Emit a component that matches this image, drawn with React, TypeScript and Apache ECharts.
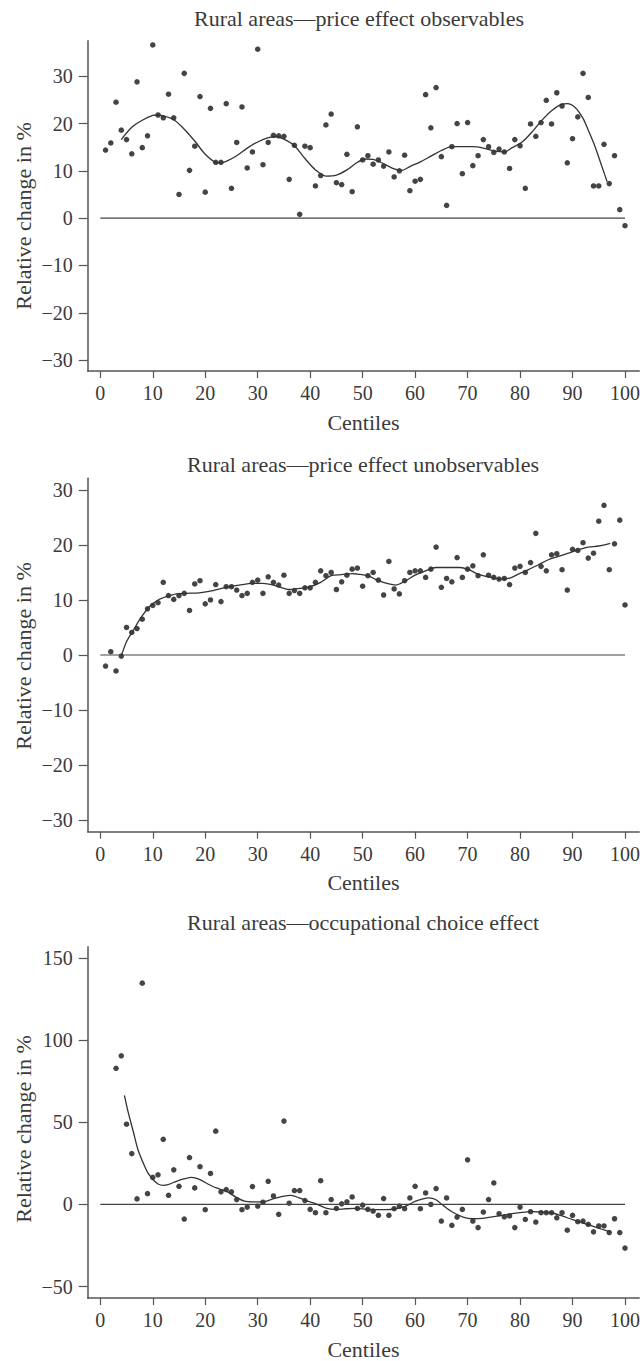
import { useEffect, useRef } from "react";
import * as echarts from "echarts";

const centiles = [
  1, 2, 3, 4, 5, 6, 7, 8, 9, 10, 11, 12, 13, 14, 15, 16, 17, 18, 19, 20,
  21, 22, 23, 24, 25, 26, 27, 28, 29, 30, 31, 32, 33, 34, 35, 36, 37, 38, 39, 40,
  41, 42, 43, 44, 45, 46, 47, 48, 49, 50, 51, 52, 53, 54, 55, 56, 57, 58, 59, 60,
  61, 62, 63, 64, 65, 66, 67, 68, 69, 70, 71, 72, 73, 74, 75, 76, 77, 78, 79, 80,
  81, 82, 83, 84, 85, 86, 87, 88, 89, 90, 91, 92, 93, 94, 95, 96, 97, 98, 99, 100,
];

const xTicks = [0, 10, 20, 30, 40, 50, 60, 70, 80, 90, 100];
const yTicksPrice = [-30, -20, -10, 0, 10, 20, 30];
const yTicksOcc = [-50, 0, 50, 100, 150];

const titles = [
  "Rural areas\u2014price effect observables",
  "Rural areas\u2014price effect unobservables",
  "Rural areas\u2014occupational choice effect",
];

// Panel 1: price effect observables
const obsValues = [
  14.4, 15.9, 24.5, 18.6, 16.6, 13.6, 28.8, 14.9, 17.4, 36.6,
  21.8, 21.2, 26.2, 21.2, 5.0, 30.6, 10.1, 15.2, 25.7, 5.5,
  23.2, 11.8, 11.8, 24.2, 6.3, 16.0, 23.5, 10.6, 14.0, 35.7,
  11.3, 16.0, 17.5, 17.4, 17.3, 8.2, 15.4, 0.8, 15.2, 14.9,
  6.8, 9.0, 19.7, 22.0, 7.5, 7.1, 13.5, 5.6, 19.3, 12.3,
  13.2, 11.4, 12.3, 11.0, 14.0, 8.7, 10.0, 13.3, 5.8, 7.8,
  8.2, 26.1, 19.1, 27.6, 13.0, 2.7, 15.1, 20.0, 9.4, 20.2,
  11.1, 13.2, 16.6, 15.1, 13.9, 14.6, 14.0, 10.5, 16.6, 15.3,
  6.3, 19.9, 17.3, 20.2, 24.9, 19.9, 26.5, 23.7, 11.7, 16.8,
  21.4, 30.6, 25.5, 6.8, 6.8, 15.6, 7.3, 13.2, 1.8, -1.6,
];
const obsFitX = [
  4, 6, 8, 10, 11, 12, 14, 16, 18, 20, 22, 23, 24, 26, 28, 30, 32, 33.5, 35, 37,
  39, 41, 43, 45, 47, 49, 50.5, 52, 54, 56, 57.5, 59, 61, 63, 65, 67, 69, 71, 73, 75,
  77, 78.5, 80.5, 82.5, 84, 86, 88, 89, 90.5, 92, 93, 94.3, 95.6, 96.6,
];
const obsFitY = [
  16.6, 19.2, 20.7, 21.7, 21.8, 21.6, 20.8, 18.8, 16.3, 13.5, 11.8, 11.7, 12.0, 13.2, 14.8, 16.1, 17.0, 17.2, 16.7, 15.3,
  12.6, 10.2, 8.9, 9.1, 10.2, 11.8, 12.5, 12.4, 11.5, 10.4, 10.1, 10.9, 11.9, 13.1, 14.3, 15.1, 15.1, 15.1, 14.8, 14.2,
  14.0, 14.9, 16.2, 18.5, 20.5, 22.7, 24.1, 24.2, 23.4, 21.1, 18.6, 15.1, 10.9, 7.7,
];

// Panel 2: price effect unobservables
const unobsValues = [
  -2.0, 0.6, -2.9, -0.2, 5.0, 4.1, 4.8, 6.5, 8.4, 9.0,
  9.5, 13.2, 10.8, 10.1, 10.8, 11.2, 8.1, 12.9, 13.5, 9.3,
  10.0, 12.8, 9.7, 12.4, 12.4, 11.8, 10.8, 11.2, 13.2, 13.6,
  11.2, 14.2, 13.2, 12.7, 14.5, 11.2, 11.7, 11.2, 12.2, 12.2,
  13.2, 15.3, 14.4, 15.0, 11.9, 13.3, 14.5, 15.6, 15.8, 12.5,
  14.4, 15.0, 13.6, 10.9, 17.0, 12.0, 11.1, 13.5, 15.0, 15.3,
  15.3, 14.1, 15.6, 19.6, 12.3, 13.9, 13.3, 17.7, 14.1, 15.6,
  16.2, 14.4, 18.2, 14.5, 14.1, 13.8, 13.9, 12.8, 15.8, 16.1,
  15.0, 16.8, 22.1, 16.1, 15.3, 18.2, 18.4, 15.5, 11.8, 19.2,
  19.0, 20.4, 17.6, 18.5, 24.3, 27.2, 15.5, 20.2, 24.5, 9.1,
];
const unobsFitX = [
  4, 5, 6.3, 7.9, 9.4, 11, 12.6, 14.5, 16.4, 18.9, 21.5, 24, 26.5, 29, 31, 33, 35, 36, 38, 40,
  42, 44, 46, 48, 49, 51, 53, 55, 56.3, 58.2, 60, 62, 64, 66.4, 68.6, 70.2, 72, 74, 76.2, 77.8,
  79.7, 81.6, 83.5, 85.4, 87.3, 89.2, 91.1, 93, 95, 97.2,
];
const unobsFitY = [
  -0.2, 2.4, 4.5, 7.0, 8.8, 10.0, 10.6, 11.1, 11.2, 11.3, 11.7, 12.3, 12.7, 13.0, 13.0, 12.7, 12.1, 11.9, 12.1, 12.4,
  13.2, 14.4, 14.6, 14.8, 14.7, 14.4, 13.5, 12.9, 12.7, 13.5, 14.5, 15.3, 15.9, 15.9, 15.9, 15.5, 14.7, 14.2, 13.8, 13.9,
  14.7, 15.5, 16.4, 17.3, 17.9, 18.5, 19.1, 19.6, 19.8, 20.3,
];

// Panel 3: occupational choice effect
const occValues = [
  null, null, 83.0, 90.6, 48.9, 31.0, 3.4, 134.9, 6.6, 16.5,
  18.1, 39.7, 5.6, 21.1, 11.1, -8.9, 28.6, 10.1, 23.0, -3.2,
  18.9, 44.7, 7.7, 9.1, 7.7, 3.0, -3.2, -1.6, 10.9, -1.0,
  1.4, 14.1, 5.2, -6.0, 50.8, 0.8, 8.5, 8.5, 2.4, -3.0,
  -5.0, 14.5, -5.0, 3.0, -2.4, 0.4, 1.6, 4.6, -2.4, -0.4,
  -3.0, -4.0, -6.6, 3.6, -6.6, -2.6, -1.0, -2.6, 4.0, 11.1,
  -2.6, 7.0, 0.0, 9.7, -10.1, 4.0, -12.7, -7.7, -3.0, 27.2,
  -10.1, -14.1, -4.6, 3.0, 13.1, -5.6, -7.5, -7.0, -14.1, -1.6,
  -9.1, -4.4, -10.7, -5.0, -5.0, -5.0, -8.1, -5.0, -15.7, -6.6,
  -10.5, -10.1, -12.1, -16.7, -13.1, -13.1, -17.1, -8.7, -17.1, -26.6,
];
const occFitX = [
  4.6, 5.3, 6.3, 7.2, 8.2, 9.1, 10.1, 11, 12, 12.9, 14.5, 16.1, 17.4, 19, 20.5, 22.1, 24, 25.9, 27.5, 29.1,
  31, 32.9, 34.8, 36.4, 37.9, 39.5, 41.1, 43, 44.9, 46.8, 48.7, 50.6, 52.5, 54.4, 56.3, 58.2, 60.1, 61.7, 62.6, 63.9,
  65.5, 67.1, 69, 70.9, 72.8, 74.7, 76.6, 78.5, 80.4, 82.3, 84.2, 86.1, 88, 89.9, 91.8, 93.7, 95.6, 97.2,
];
const occFitY = [
  66.5, 56.4, 44.3, 33.2, 25.2, 19.1, 15.1, 12.5, 11.7, 12.1, 14.1, 15.7, 16.5, 15.1, 12.5, 10.1, 8.1, 4.4, 2.0, 1.6,
  1.6, 3.4, 5.0, 5.6, 4.0, 2.0, 0.4, -2.2, -3.0, -2.6, -2.4, -2.8, -3.2, -3.2, -2.6, -1.0, 2.0, 3.6, 4.0, 3.0,
  -1.0, -4.6, -7.5, -8.7, -8.5, -7.5, -6.6, -5.6, -4.8, -4.4, -4.6, -5.2, -7.0, -9.1, -11.1, -13.1, -15.1, -16.7,
];

const FONT = "'Liberation Serif', 'Times New Roman', serif";
const TEXT = "#3a3a3a";
const AXIS = "#555";

export default function App() {
  const ref = useRef<HTMLDivElement>(null);

  useEffect(() => {
    if (!ref.current) return;
    const chart = echarts.init(ref.current, null, { renderer: "svg" });

    const panels = [
      { values: obsValues, fitX: obsFitX, fitY: obsFitY, yTicks: yTicksPrice, yMin: -32.3, yMax: 37.5,
        top: 40.7, height: 330.3, titleX: 359, titleY: 18, nameY: 216 },
      { values: unobsValues, fitX: unobsFitX, fitY: unobsFitY, yTicks: yTicksPrice, yMin: -32.1, yMax: 32.1,
        top: 478.3, height: 353.4, titleX: 363, titleY: 464, nameY: 656 },
      { values: occValues, fitX: occFitX, fitY: occFitY, yTicks: yTicksOcc, yMin: -57, yMax: 157.1,
        top: 946.7, height: 354.3, titleX: 363, titleY: 922, nameY: 1129 },
    ];

    const fmt = (v: number) => String(v).replace("-", "\u2212");

    const grid = panels.map((p) => ({ left: 87.7, width: 553, top: p.top, height: p.height }));

    const xAxis = panels.map((_, i) => ({
      type: "value",
      gridIndex: i,
      min: -2.4,
      max: 102.7,
      name: "Centiles",
      nameLocation: "middle",
      nameGap: 40,
      nameTextStyle: { fontFamily: FONT, fontSize: 22, color: TEXT },
      axisLine: { show: true, onZero: false, lineStyle: { color: AXIS, width: 1.5 } },
      axisTick: { show: true, length: 7, customValues: xTicks, lineStyle: { color: AXIS, width: 1.2 } },
      axisLabel: { customValues: xTicks, fontFamily: FONT, fontSize: 20, color: TEXT, margin: 12, formatter: fmt },
      splitLine: { show: false },
    }));

    const yAxis = panels.map((p, i) => ({
      type: "value",
      gridIndex: i,
      min: p.yMin,
      max: p.yMax,
      axisLine: { show: true, onZero: false, lineStyle: { color: AXIS, width: 1.5 } },
      axisTick: { show: true, length: 9, customValues: p.yTicks, lineStyle: { color: AXIS, width: 1.2 } },
      axisLabel: { customValues: p.yTicks, fontFamily: FONT, fontSize: 20, color: TEXT, margin: 15, formatter: fmt },
      splitLine: { show: false },
    }));

    const series: any[] = [];
    panels.forEach((p, i) => {
      series.push({
        type: "line",
        xAxisIndex: i,
        yAxisIndex: i,
        data: [[0, 0], [100, 0]],
        symbol: "none",
        lineStyle: { color: "#444", width: 1.2 },
        silent: true,
      });
      series.push({
        type: "line",
        xAxisIndex: i,
        yAxisIndex: i,
        data: p.fitX.map((x, k) => [x, p.fitY[k]]),
        symbol: "none",
        smooth: 0.3,
        lineStyle: { color: "#333", width: 1.3 },
      });
      series.push({
        type: "scatter",
        xAxisIndex: i,
        yAxisIndex: i,
        data: centiles
          .map((c, k) => [c, p.values[k]])
          .filter((d) => d[1] !== null),
        symbol: "circle",
        symbolSize: 5.5,
        itemStyle: { color: "#151515" },
      });
    });

    const graphic: any[] = [];
    panels.forEach((p, i) => {
      graphic.push({
        type: "text",
        x: p.titleX,
        y: p.titleY,
        style: {
          text: titles[i],
          fontFamily: FONT,
          fontSize: 22,
          fill: TEXT,
          textAlign: "center",
          textVerticalAlign: "middle",
        },
      });
      graphic.push({
        type: "text",
        x: 23,
        y: p.nameY,
        rotation: Math.PI / 2,
        style: {
          text: "Relative change in %",
          fontFamily: FONT,
          fontSize: 22,
          fill: TEXT,
          textAlign: "center",
          textVerticalAlign: "middle",
        },
      });
    });

    chart.setOption({
      animation: false,
      backgroundColor: "#fff",
      grid,
      xAxis,
      yAxis,
      series,
      graphic,
    });

    return () => chart.dispose();
  }, []);

  return (
    <div
      ref={ref}
      style={{ position: "absolute", left: 0, top: 0, width: 643, height: 1361, background: "#fff" }}
    />
  );
}
